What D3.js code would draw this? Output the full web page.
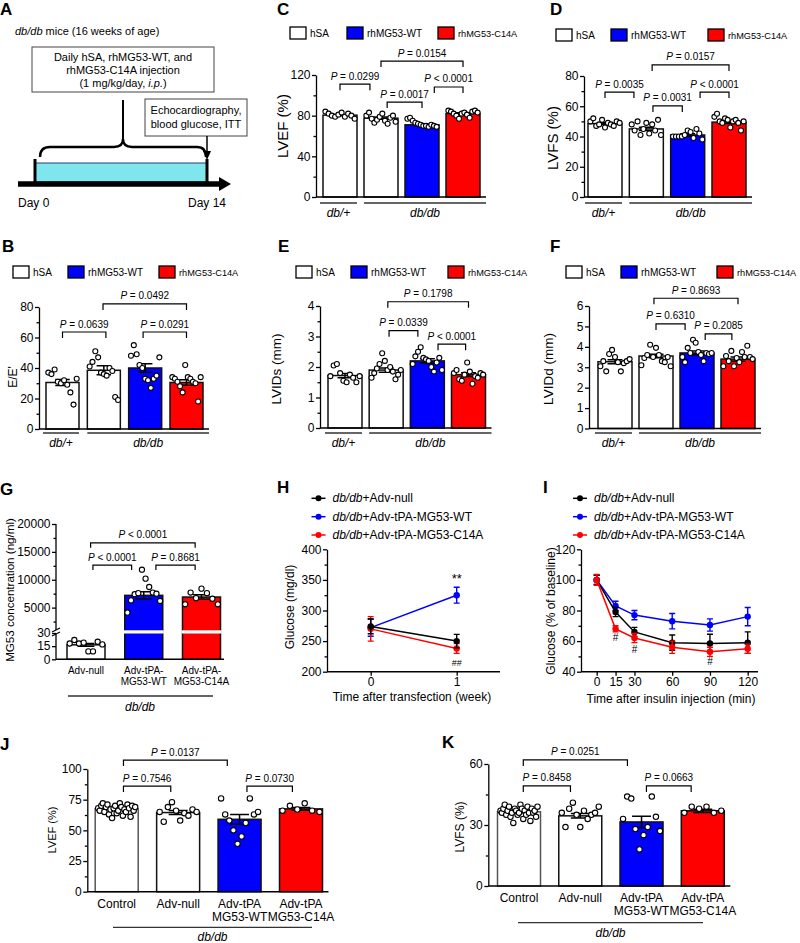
<!DOCTYPE html>
<html><head><meta charset="utf-8">
<script src="https://cdn.jsdelivr.net/npm/d3@7"></script>
<style>
body{margin:0;background:#fff}
svg text{font-family:"Liberation Sans",Arial,Helvetica,sans-serif;white-space:pre}
</style></head><body>
<svg id="fig" width="800" height="943" xmlns="http://www.w3.org/2000/svg"></svg>
<script>
// ================= DATA =================
const legendLabels = ["hSA","rhMG53-WT","rhMG53-C14A"];
const echoTreatments = ["hSA","hSA","rhMG53-WT","rhMG53-C14A"];
const echoStrains = ["db/+","db/db"];
const timelineLabels = ["Day 0","Day 14"];

// B: E/E'
const bMeans = [30.5, 38.5, 40, 30.5];
const bSems  = [2.0, 3.0, 2.8, 1.8];
const bPoints = [
  [37, 36, 39, 31, 30, 32, 29, 24, 16, 33],
  [41, 44, 51, 47, 37, 36, 35, 40, 38, 21, 19],
  [48, 55, 49, 42, 40, 33, 32, 27, 33, 35, 47],
  [34, 33, 31, 28, 24, 42, 34, 33, 31, 30, 18, 34]
];
const bBrackets = [[0.98, 3, 82, "= 0.0492"], [0, 1.05, 63.6, "= 0.0639"], [1.95, 3, 63.6, "= 0.0291"]];

// C: LVEF
const cMeans = [80.5, 77.5, 71, 82];
const cSems  = [0.7, 1.1, 0.8, 0.8];
const cPoints = [
  [84, 82, 80, 79, 81, 83, 79, 82, 80, 77],
  [80, 83, 77, 73, 76, 79, 82, 75, 72, 78, 80, 74],
  [77, 78, 75, 73, 72, 71, 70, 70, 69, 71, 70, 69],
  [85, 84, 82, 80, 77, 82, 83, 81, 78, 84, 85, 83]
];
const cBrackets = [[1, 3, 133.7, "= 0.0154"], [0, 0.73, 111, "= 0.0299"], [1.15, 2, 93.4, "= 0.0017"], [2.3, 3, 108.2, "< 0.0001"]];

// D: LVFS
const dMeans = [48.5, 45, 41, 49.5];
const dSems  = [0.6, 1.1, 0.8, 0.9];
const dPoints = [
  [50, 52, 47, 48, 51, 46, 49, 48, 47, 50, 49],
  [48, 44, 50, 41, 45, 49, 42, 48, 44, 51, 41],
  [40, 40, 40, 40, 41, 44, 43, 39, 45, 42, 38],
  [53, 55, 50, 49, 52, 51, 46, 50, 51, 49, 44, 50]
];
const dBrackets = [[1.14, 3, 87.3, "= 0.0157"], [0, 0.7, 69.4, "= 0.0035"], [1.16, 1.87, 60.2, "= 0.0031"], [2.3, 3, 69.4, "< 0.0001"]];

// E: LVIDs
const eMeans = [1.72, 1.9, 2.2, 1.75];
const eSems  = [0.07, 0.07, 0.07, 0.06];
const ePoints = [
  [1.7, 2.05, 2.1, 1.8, 1.55, 1.5, 1.75, 1.65, 1.5, 1.7],
  [1.65, 1.8, 1.95, 2.1, 2.45, 2.2, 1.9, 2.0, 1.85, 1.6, 1.75, 1.9],
  [2.1, 2.35, 2.5, 2.65, 2.3, 2.25, 2.2, 2.0, 1.85, 2.15, 2.3, 1.9],
  [1.8, 1.9, 1.6, 1.55, 1.75, 2.15, 1.85, 1.45, 1.7, 1.65, 1.8, 1.75]
];
const eBrackets = [[1.04, 3, 4.14, "= 0.1798"], [1.07, 1.77, 3.19, "= 0.0339"], [2.26, 2.93, 2.75, "< 0.0001"]];

// F: LVIDd
const fMeans = [3.27, 3.55, 3.7, 3.4];
const fSems  = [0.1, 0.09, 0.09, 0.1];
const fPoints = [
  [3.05, 3.3, 2.8, 3.65, 3.85, 3.5, 3.25, 2.8, 3.2, 3.3, 3.4],
  [3.1, 3.45, 3.6, 4.1, 3.5, 3.95, 3.6, 3.3, 3.25, 3.5, 3.05],
  [3.5, 3.25, 3.95, 3.7, 4.35, 4.2, 3.75, 3.6, 3.3, 3.7, 3.65, 3.7],
  [3.05, 3.55, 3.3, 3.8, 3.05, 3.45, 3.25, 3.75, 3.5, 4.05, 3.5, 3.4]
];
const fBrackets = [[0.95, 3, 6.38, "= 0.8693"], [1.0, 1.71, 5.12, "= 0.6310"], [2.2, 2.85, 4.63, "= 0.2085"]];

// G: MG53 concentration
const gCategories = ["Adv-null", "Adv-tPA-\nMG53-WT", "Adv-tPA-\nMG53-C14A"];
const gKinds = ["hSA", "rhMG53-WT", "rhMG53-C14A"];
const gMeans = [16.5, 7200, 6900];
const gSems  = [1.6, 650, 400];
const gPoints = [
  [18, 22, 18, 19, 9, 9, 20, 17],
  [4100, 6300, 7400, 7600, 11800, 10200, 8700, 7700, 7500, 6200],
  [5600, 7700, 6700, 8400, 7600, 6600, 5600]
];
const gBrackets = [[0.08, 1.89, 16630, "< 0.0001"], [0.12, 0.79, 12630, "< 0.0001"], [1.21, 1.89, 12630, "= 0.8681"]];

// H: glucose after transfection
const lineSeriesNames = ["+Adv-null", "+Adv-tPA-MG53-WT", "+Adv-tPA-MG53-C14A"];
const hWeeks = [0, 1];
const hNullMean = [274, 250], hNullSem = [12, 11];
const hWTMean = [272, 325], hWTSem = [14, 13];
const hC14AMean = [270, 238], hC14ASem = [20, 8];

// I: ITT
const iTimes = [0, 15, 30, 60, 90, 120];
const iNullMean = [100, 79, 66, 59, 58.5, 59], iNullSem = [3, 3, 3, 5, 6, 7];
const iWTMean = [100, 83, 77, 73, 70.5, 76], iWTSem = [3, 3, 3, 5, 4, 6];
const iC14AMean = [100, 68, 62, 56, 53, 55], iC14ASem = [3.5, 2, 3, 4, 3, 3];
const iHashTimes = [15, 30, 90], iHashValues = [62.5, 54.6, 46.5];

// J / K
const jkCategories = ["Control", "Adv-null", "Adv-tPA\nMG53-WT", "Adv-tPA\nMG53-C14A"];
const jkKinds = ["hSA", "hSA", "rhMG53-WT", "rhMG53-C14A"];
const jMeans = [67.5, 64.5, 59, 67.5];
const jSems  = [0.7, 1.6, 4, 1.1];
const jPoints = [
  [68, 66, 70, 72, 65, 69, 71, 63, 67, 60, 68, 70, 64, 66, 72, 69, 62, 67, 65, 71, 68, 61, 70, 66, 69],
  [65, 57, 69, 73, 66, 58, 64, 62, 67, 65],
  [76, 63, 58, 50, 39, 45, 56, 76, 63, 65],
  [66, 70, 67, 72, 66, 65]
];
const jBrackets = [[0.11, 1.8, 107.3, "= 0.0137"], [0.11, 0.88, 86.1, "= 0.7546"], [2.12, 2.86, 86.1, "= 0.0730"]];
const kMeans = [36.5, 34.5, 31.5, 37];
const kSems  = [0.45, 1.1, 2.8, 0.8];
const kPoints = [
  [37, 36, 38, 40, 35, 37, 39, 34, 36, 31, 38, 37, 35, 36, 40, 38, 33, 37, 35, 39, 36, 32, 38, 36, 37, 34, 39],
  [36, 29, 38, 41, 35, 29, 37, 33, 35, 36, 39],
  [33, 44, 43, 28, 18, 25, 29, 44, 34, 27],
  [36, 39, 38, 39, 36, 37]
];
const kBrackets = [[0.07, 1.77, 62, "= 0.0251"], [0.07, 0.84, 49.2, "= 0.8458"], [2.08, 2.81, 49.2, "= 0.0663"]];

// ================= STYLE =================
const BLUE = "#0000ff", RED = "#ff0000";
const kindFill = {"hSA": "#ffffff", "rhMG53-WT": BLUE, "rhMG53-C14A": RED};
const lineColors = ["#000000", BLUE, RED];

const svg = d3.select("#fig");

function richText(parent, x, y, parts, o) {
  o = o || {};
  const t = parent.append("text").attr("x", x).attr("y", y)
    .attr("font-size", o.size || 12).attr("text-anchor", o.anchor || "start").attr("fill", "#000");
  parts.forEach(([s, it]) => t.append("tspan").attr("font-style", it ? "italic" : "normal").text(s));
  return t;
}
function panelLabel(t, x, y) {
  svg.append("text").attr("x", x).attr("y", y).attr("font-size", 17).attr("font-weight", "bold").text(t);
}
function yAxis(g, y, x, major, minor, fmt, keepDomain) {
  const a = g.append("g").attr("transform", `translate(${x},0)`)
    .call(d3.axisLeft(y).tickValues(major).tickSize(4).tickSizeOuter(0).tickPadding(1.5).tickFormat(fmt || d3.format("d")));
  a.attr("font-family", null).attr("font-size", 12);
  a.selectAll("text").attr("fill", "#000");
  a.selectAll("path,line").attr("stroke", "#000").attr("stroke-width", 1.3);
  if (keepDomain === false) a.select(".domain").remove();
  if (minor) {
    const m = g.append("g").attr("transform", `translate(${x},0)`)
      .call(d3.axisLeft(y).tickValues(minor).tickSize(2.5).tickFormat(""));
    m.select(".domain").remove();
    m.selectAll("line").attr("stroke", "#000").attr("stroke-width", 1.3);
  }
}
function yLabel(g, text, x, cy, size) {
  g.append("text").attr("transform", `translate(${x},${cy}) rotate(-90)`)
    .attr("text-anchor", "middle").attr("font-size", size || 12).attr("dy", "0.35em").text(text);
}
function spread(n, cx, w) {
  if (n === 1) return [cx];
  return d3.range(n).map(j => cx - w / 2 + w * j / (n - 1));
}
function drawBrackets(g, xs, y, list, leg) {
  list.forEach(([i1, i2, v, lab]) => {
    const x1 = xs(i1), x2 = xs(i2), yy = y(v);
    g.append("path").attr("d", `M${x1},${yy + leg}V${yy}H${x2}V${yy + leg}`)
      .attr("fill", "none").attr("stroke", "#000").attr("stroke-width", 1.2);
    richText(g, (x1 + x2) / 2, yy - 4.5, [["P", true], [" " + lab, false]], {size: 10, anchor: "middle"});
  });
}
function barLegend(g, xsq, cy) {
  legendLabels.forEach((l, i) => {
    g.append("rect").attr("x", xsq[i]).attr("y", cy - 6).attr("width", 16).attr("height", 12)
      .attr("fill", kindFill[l]).attr("stroke", "#000").attr("stroke-width", 1.3);
    g.append("text").attr("x", xsq[i] + 20).attr("y", cy + 3.5)
      .attr("font-size", l.length > 10 ? 9.2 : 10).text(l);
  });
}
function drawBarsPointsErr(g, xs, yv, y0px, means, sems, points, kinds, bw, r, strokes) {
  g.selectAll(null).data(means).join("rect")
    .attr("x", (d, i) => xs(i) - bw / 2).attr("width", bw)
    .attr("y", d => yv(d)).attr("height", d => y0px - yv(d))
    .attr("fill", (d, i) => kindFill[kinds[i]])
    .attr("stroke", (d, i) => strokes ? strokes[i] : "#111").attr("stroke-width", 1.5);
  means.forEach((m, i) => {
    const s = sems[i], cx = xs(i), cw = bw * 0.22;
    g.append("path")
      .attr("d", `M${cx},${yv(m - s)}V${yv(m + s)}M${cx - cw},${yv(m + s)}H${cx + cw}M${cx - cw},${yv(m - s)}H${cx + cw}`)
      .attr("fill", "none").attr("stroke", "#000").attr("stroke-width", 1.5);
  });
  points.forEach((arr, i) => {
    const pos = spread(arr.length, xs(i), bw * 0.86);
    g.selectAll(null).data(arr).join("circle")
      .attr("cx", (d, j) => pos[j]).attr("cy", d => yv(d)).attr("r", r)
      .attr("fill", "#fff").attr("stroke", "#000").attr("stroke-width", 1.1);
  });
}

function echoPanel(c) {
  const g = svg.append("g");
  const y = d3.scaleLinear().domain(c.domain).range(c.yRange);
  const xs = d3.scaleLinear().domain([0, 3]).range(c.xRange);
  const y0 = y(c.domain[0]);
  drawBarsPointsErr(g, xs, y, y0, c.means, c.sems, c.points, echoTreatments, c.bw, 2.5);
  yAxis(g, y, c.axisX, c.major, c.minor, c.fmt);
  g.append("line").attr("x1", c.axisX).attr("x2", xs(3) + c.bw / 2 + 6).attr("y1", y0).attr("y2", y0)
    .attr("stroke", "#000").attr("stroke-width", 1.5);
  drawBrackets(g, xs, y, c.brackets, 6);
  barLegend(g, c.legendX, c.legendY);
  const gl = [[xs(0) - c.bw / 2 - 3, xs(0) + c.bw / 2], [xs(1) - c.bw / 2, xs(3) + c.bw / 2 + 6]];
  echoStrains.forEach((s, i) => {
    g.append("line").attr("x1", gl[i][0]).attr("x2", gl[i][1]).attr("y1", c.groupY).attr("y2", c.groupY)
      .attr("stroke", "#333").attr("stroke-width", 1.3);
    richText(g, (gl[i][0] + gl[i][1]) / 2, c.groupY + 14, [[s, true]], {size: 12, anchor: "middle"});
  });
  yLabel(g, c.ylabel, c.ylabelX, c.ylabelY, c.ylabelSize);
}

// ================= PANEL A =================
(function () {
  const g = svg.append("g");
  richText(g, 15, 35, [["db/db", true], [" mice (16 weeks of age)", false]], {size: 11});
  g.append("rect").attr("x", 32).attr("y", 47).attr("width", 182).attr("height", 45)
    .attr("fill", "#fff").attr("stroke", "#444").attr("stroke-width", 1);
  richText(g, 123, 61, [["Daily hSA, rhMG53-WT, and", false]], {size: 11, anchor: "middle"});
  richText(g, 123, 74, [["rhMG53-C14A injection", false]], {size: 11, anchor: "middle"});
  richText(g, 123, 87, [["(1 mg/kg/day, ", false], ["i.p.", true], [")", false]], {size: 11, anchor: "middle"});
  g.append("line").attr("x1", 123).attr("x2", 123).attr("y1", 100).attr("y2", 141).attr("stroke", "#000").attr("stroke-width", 2);
  g.append("path").attr("d", "M40,157 Q40,147 50,147 L114,147 Q123,147 123,139 Q123,147 132,147 L197,147 Q206,147 206,157")
    .attr("fill", "none").attr("stroke", "#000").attr("stroke-width", 2.4);
  g.append("rect").attr("x", 145).attr("y", 99).attr("width", 102).attr("height", 37)
    .attr("fill", "#fff").attr("stroke", "#444").attr("stroke-width", 1);
  richText(g, 196, 114, [["Echocardiography,", false]], {size: 11, anchor: "middle"});
  richText(g, 196, 128, [["blood glucose, ITT", false]], {size: 11, anchor: "middle"});
  g.append("line").attr("x1", 207).attr("x2", 207).attr("y1", 136).attr("y2", 152).attr("stroke", "#000").attr("stroke-width", 1.5);
  g.append("path").attr("d", "M203,151 L211,151 L207,160 Z").attr("fill", "#000");
  g.append("rect").attr("x", 35).attr("y", 163).attr("width", 172).attr("height", 19)
    .attr("fill", "#80e6ee").attr("stroke", "#2a3b7a").attr("stroke-width", 1);
  g.append("line").attr("x1", 18).attr("x2", 222).attr("y1", 184).attr("y2", 184).attr("stroke", "#000").attr("stroke-width", 5.5);
  g.append("path").attr("d", "M219,177 L219,191 L231,184 Z").attr("fill", "#000");
  [35, 207].forEach(x => g.append("line").attr("x1", x).attr("x2", x).attr("y1", 159).attr("y2", 186)
    .attr("stroke", "#000").attr("stroke-width", 3));
  g.append("text").attr("x", 18).attr("y", 207).attr("font-size", 12).text(timelineLabels[0]);
  g.append("text").attr("x", 188).attr("y", 207).attr("font-size", 12).text(timelineLabels[1]);
})();

// ================= PANELS B-F =================
echoPanel({means: cMeans, sems: cSems, points: cPoints, brackets: cBrackets,
  domain: [0, 120], yRange: [197, 75], xRange: [340, 463], bw: 34, axisX: 316,
  major: [0, 40, 80, 120], minor: [20, 60, 100], legendX: [290, 347, 438], legendY: 33,
  groupY: 203, ylabel: "LVEF (%)", ylabelX: 283, ylabelY: 126, ylabelSize: 15});
echoPanel({means: dMeans, sems: dSems, points: dPoints, brackets: dBrackets,
  domain: [0, 80], yRange: [197, 76], xRange: [605, 729], bw: 34, axisX: 584,
  major: [0, 20, 40, 60, 80], minor: [10, 30, 50, 70], legendX: [556, 611, 708], legendY: 35,
  groupY: 203, ylabel: "LVFS (%)", ylabelX: 553, ylabelY: 138, ylabelSize: 15});
echoPanel({means: bMeans, sems: bSems, points: bPoints, brackets: bBrackets,
  domain: [0, 80], yRange: [429, 307], xRange: [62.5, 186.5], bw: 33, axisX: 39,
  major: [0, 20, 40, 60, 80], minor: [10, 30, 50, 70], legendX: [13, 68, 159], legendY: 272,
  groupY: 433, ylabel: "E/E'", ylabelX: 13, ylabelY: 377});
echoPanel({means: eMeans, sems: eSems, points: ePoints, brackets: eBrackets,
  domain: [0, 4], yRange: [428, 306], xRange: [345, 468.5], bw: 34, axisX: 320,
  major: [0, 1, 2, 3, 4], minor: [0.5, 1.5, 2.5, 3.5], legendX: [296, 351, 448], legendY: 272,
  groupY: 433, ylabel: "LVIDs (mm)", ylabelX: 276, ylabelY: 369, ylabelSize: 13.5});
echoPanel({means: fMeans, sems: fSems, points: fPoints, brackets: fBrackets,
  domain: [0, 6], yRange: [428.5, 306], xRange: [615, 738], bw: 34, axisX: 589,
  major: [0, 1, 2, 3, 4, 5, 6], minor: null, legendX: [566, 621, 717], legendY: 272,
  groupY: 433, ylabel: "LVIDd (mm)", ylabelX: 548, ylabelY: 369, ylabelSize: 13.5});

// ================= PANEL G =================
(function () {
  const g = svg.append("g");
  const yLow = d3.scaleLinear().domain([0, 30]).range([659.3, 633]);
  const yHigh = d3.scaleLinear().domain([0, 20000]).range([635.5, 524]);
  const yv = v => (v <= 30 ? yLow(v) : yHigh(v));
  const xs = d3.scaleLinear().domain([0, 2]).range([86, 201.5]);
  const bw = 38, axisX = 56;
  drawBarsPointsErr(g, xs, yv, yLow(0), gMeans, gSems, gPoints, gKinds, bw, 2.6);
  gMeans.forEach((m, i) => {
    if (m > 30) g.append("rect").attr("x", xs(i) - bw / 2 - 1).attr("width", bw + 2)
      .attr("y", 630.3).attr("height", 3.2).attr("fill", "#fff");
  });
  yAxis(g, yLow, axisX, [0, 15, 30], null, d3.format("d"), false);
  yAxis(g, yHigh, axisX, [5000, 10000, 15000, 20000], [2500, 7500, 12500, 17500], d3.format("d"), false);
  g.append("line").attr("x1", axisX).attr("x2", axisX).attr("y1", yLow(0)).attr("y2", 634).attr("stroke", "#000").attr("stroke-width", 1.3);
  g.append("line").attr("x1", axisX).attr("x2", axisX).attr("y1", 630).attr("y2", yHigh(20000)).attr("stroke", "#000").attr("stroke-width", 1.3);
  g.append("path").attr("d", `M${axisX - 4},636 L${axisX + 4},632 M${axisX - 4},632 L${axisX + 4},628`).attr("stroke", "#000").attr("stroke-width", 1.2);
  g.append("line").attr("x1", axisX).attr("x2", 224).attr("y1", yLow(0)).attr("y2", yLow(0)).attr("stroke", "#000").attr("stroke-width", 1.5);
  drawBrackets(g, xs, yHigh, gBrackets, 5);
  gCategories.forEach((c, i) => {
    c.split("\n").forEach((ln, k) => g.append("text").attr("x", xs(i)).attr("y", 674 + k * 11)
      .attr("text-anchor", "middle").attr("font-size", 10).text(ln));
  });
  g.append("line").attr("x1", 68).attr("x2", 213).attr("y1", 696).attr("y2", 696).attr("stroke", "#333").attr("stroke-width", 1.3);
  richText(g, 140, 711, [["db/db", true]], {size: 12, anchor: "middle"});
  yLabel(g, "MG53 concentration (ng/ml)", 10, 590, 11.6);
})();

// ================= LINE PANELS H, I =================
function linePanel(c) {
  const g = svg.append("g");
  const x = d3.scaleLinear().domain(c.xDomain).range(c.xRange);
  const y = d3.scaleLinear().domain(c.yDomain).range(c.yRange);
  const yb = y(c.yDomain[0]);
  yAxis(g, y, c.axisX, c.major, c.minor);
  g.append("line").attr("x1", c.axisX).attr("x2", c.xEnd).attr("y1", yb).attr("y2", yb).attr("stroke", "#000").attr("stroke-width", 1.5);
  const xa = g.append("g").attr("transform", `translate(0,${yb})`)
    .call(d3.axisBottom(x).tickValues(c.xTicks).tickSize(4).tickPadding(1.5).tickFormat(d3.format("d")));
  xa.select(".domain").remove();
  xa.attr("font-family", null).attr("font-size", 12);
  xa.selectAll("text").attr("fill", "#000");
  xa.selectAll("line").attr("stroke", "#000").attr("stroke-width", 1.3);
  g.append("text").attr("x", c.titleX).attr("y", c.titleY).attr("text-anchor", "middle").attr("font-size", 12).text(c.xtitle);
  yLabel(g, c.ylabel, c.ylabelX, c.ylabelY);
  c.order.forEach(si => {
    const s = c.series[si], col = lineColors[si];
    const pts = c.xs.map((t, k) => [t, s.mean[k], s.sem[k]]);
    g.append("path").datum(pts).attr("d", d3.line().x(d => x(d[0])).y(d => y(d[1])))
      .attr("fill", "none").attr("stroke", col).attr("stroke-width", 1.5);
    pts.forEach(d => {
      const cx = x(d[0]);
      g.append("path").attr("d", `M${cx},${y(d[1] - d[2])}V${y(d[1] + d[2])}M${cx - 3},${y(d[1] + d[2])}H${cx + 3}M${cx - 3},${y(d[1] - d[2])}H${cx + 3}`)
        .attr("stroke", col).attr("stroke-width", 1.4).attr("fill", "none");
    });
    g.selectAll(null).data(pts).join("circle").attr("cx", d => x(d[0])).attr("cy", d => y(d[1])).attr("r", 3.2).attr("fill", col);
  });
  lineSeriesNames.forEach((n, i) => {
    const ly = c.legendY[i];
    g.append("line").attr("x1", c.legendX - 7).attr("x2", c.legendX + 7).attr("y1", ly).attr("y2", ly).attr("stroke", lineColors[i]).attr("stroke-width", 1.5);
    g.append("circle").attr("cx", c.legendX).attr("cy", ly).attr("r", 3).attr("fill", lineColors[i]);
    richText(g, c.legendX + 14, ly + 4, [["db/db", true], [n, false]], {size: 12});
  });
  return {g, x, y};
}
(function () {
  const h = linePanel({xDomain: [0, 1], xRange: [370.7, 456.7], yDomain: [200, 400], yRange: [671.7, 549.3],
    axisX: 327, xEnd: 500, major: [200, 250, 300, 350, 400], minor: [225, 275, 325, 375], xTicks: hWeeks,
    xs: hWeeks, series: [{mean: hNullMean, sem: hNullSem}, {mean: hWTMean, sem: hWTSem}, {mean: hC14AMean, sem: hC14ASem}],
    order: [1, 2, 0], xtitle: "Time after transfection (week)", titleX: 412, titleY: 701,
    ylabel: "Glucose (mg/dl)", ylabelX: 290, ylabelY: 607, legendX: 318.5, legendY: [498.3, 516.7, 535]});
  h.g.append("text").attr("x", h.x(1)).attr("y", h.y(hWTMean[1] + hWTSem[1]) - 4).attr("text-anchor", "middle").attr("font-size", 13).text("**");
  h.g.append("text").attr("x", h.x(1)).attr("y", 666).attr("text-anchor", "middle").attr("font-size", 9).text("##");
  const ip = linePanel({xDomain: [0, 120], xRange: [596.7, 747.7], yDomain: [40, 120], yRange: [671.7, 549.3],
    axisX: 581, xEnd: 758, major: [40, 60, 80, 100, 120], minor: [50, 70, 90, 110], xTicks: iTimes,
    xs: iTimes, series: [{mean: iNullMean, sem: iNullSem}, {mean: iWTMean, sem: iWTSem}, {mean: iC14AMean, sem: iC14ASem}],
    order: [1, 0, 2], xtitle: "Time after insulin injection (min)", titleX: 671, titleY: 703,
    ylabel: "Glucose (% of baseline)", ylabelX: 551, ylabelY: 611, legendX: 580, legendY: [498.3, 516.7, 535]});
  iHashTimes.forEach((t, k) => ip.g.append("text").attr("x", ip.x(t)).attr("y", ip.y(iHashValues[k]) + 3.5)
    .attr("text-anchor", "middle").attr("font-size", 10).text("#"));
})();

// ================= PANELS J, K =================
function jkPanel(c) {
  const g = svg.append("g");
  const y = d3.scaleLinear().domain(c.domain).range(c.yRange);
  const xs = d3.scaleLinear().domain([0, 3]).range(c.xRange);
  const y0 = y(c.domain[0]), bw = 43;
  drawBarsPointsErr(g, xs, y, y0, c.means, c.sems, c.points, jkKinds, bw, 2.7, ["#555", "#111", "#111", "#111"]);
  yAxis(g, y, c.axisX, c.major, c.minor);
  g.append("line").attr("x1", c.axisX).attr("x2", xs(3) + bw / 2 + 6).attr("y1", y0).attr("y2", y0).attr("stroke", "#000").attr("stroke-width", 1.5);
  drawBrackets(g, xs, y, c.brackets, 6);
  jkCategories.forEach((cat, i) => {
    cat.split("\n").forEach((ln, k) => g.append("text").attr("x", xs(i)).attr("y", c.labelY + k * 13)
      .attr("text-anchor", "middle").attr("font-size", 12).text(ln));
  });
  g.append("line").attr("x1", c.groupX[0]).attr("x2", c.groupX[1]).attr("y1", c.groupY).attr("y2", c.groupY).attr("stroke", "#333").attr("stroke-width", 1.3);
  richText(g, (c.groupX[0] + c.groupX[1]) / 2, c.groupY + 14, [["db/db", true]], {size: 12, anchor: "middle"});
  yLabel(g, c.ylabel, c.ylabelX, c.ylabelY, c.ylabelSize);
}
jkPanel({means: jMeans, sems: jSems, points: jPoints, brackets: jBrackets,
  domain: [0, 100], yRange: [891.7, 769], xRange: [116.7, 301], axisX: 87.3,
  major: [0, 25, 50, 75, 100], minor: [12.5, 37.5, 62.5, 87.5], labelY: 907.5,
  groupX: [113, 312], groupY: 927.3, ylabel: "LVEF (%)", ylabelX: 52, ylabelY: 830, ylabelSize: 11});
jkPanel({means: kMeans, sems: kSems, points: kPoints, brackets: kBrackets,
  domain: [0, 60], yRange: [886, 764], xRange: [519, 702.8], axisX: 488.3,
  major: [0, 30, 60], minor: [15, 45], labelY: 901.5,
  groupX: [518, 703], groupY: 922.7, ylabel: "LVFS (%)", ylabelX: 460, ylabelY: 827, ylabelSize: 12});

// ================= PANEL LABELS =================
[["A", 0, 15], ["C", 277, 15], ["D", 550, 15], ["B", 2, 252], ["E", 278, 252], ["F", 550, 252],
 ["G", 0, 495], ["H", 277, 493], ["I", 543, 493], ["J", 0, 750], ["K", 442, 748]].forEach(d => panelLabel(...d));
</script></body></html>
